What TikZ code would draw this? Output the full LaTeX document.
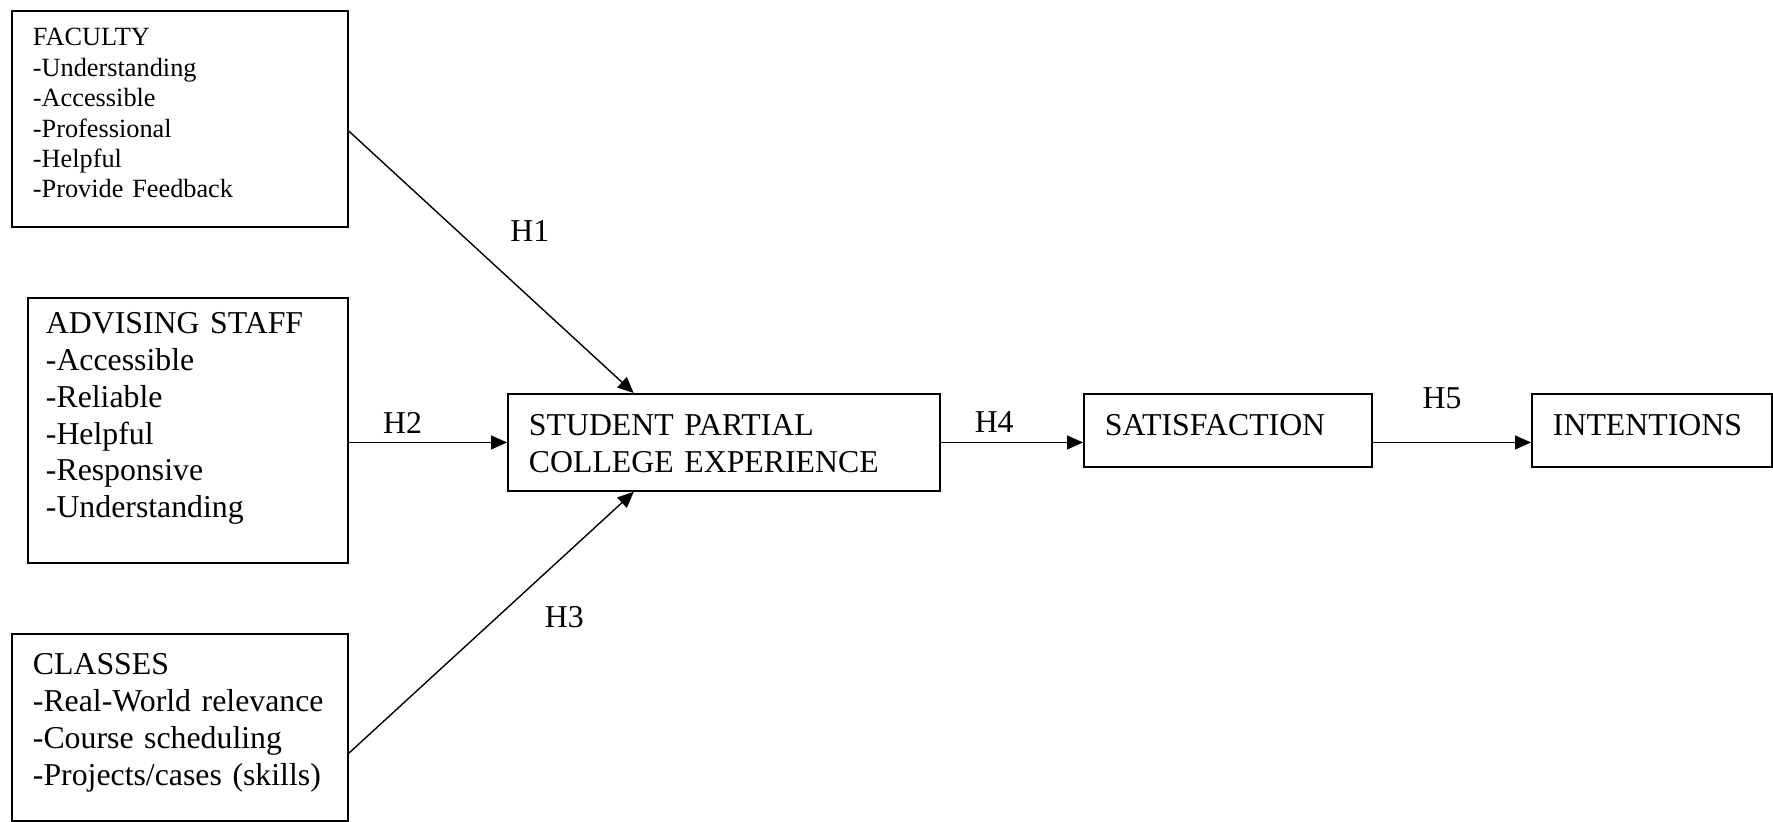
\documentclass[tikz,border=0pt]{standalone}
\usepackage{fontspec}
\setmainfont{Liberation Serif}
\usetikzlibrary{arrows.meta,calc,positioning}
\newcommand{\boxfont}{\fontsize{31.8pt}{36.7pt}\selectfont}
\newcommand{\smallboxfont}{\fontsize{26.3pt}{30.4pt}\selectfont}
\tikzset{
factor/.style={draw,line width=1.9pt,rectangle,anchor=north west,align=left,
    inner ysep=0pt,inner xsep=21pt,font=\boxfont},
hyp/.style={-{Triangle[length=16pt,width=14pt]},line width=1.4pt},
hlabel/.style={font=\boxfont,inner sep=0pt},
}

\begin{document}
\begin{tikzpicture}[x=1pt,y=-1pt]
    \useasboundingbox (0,0) rectangle (1773,822);

    \node[factor,font=\smallboxfont,text width=294pt,text height=35pt,text depth=181pt]
        (fac) at (11,10)
        {FACULTY\\-Understanding\\-Accessible\\-Professional\\-Helpful\\-Provide Feedback};
    \node[factor,inner xsep=18pt,text width=284pt,text height=36pt,text depth=229pt]
        (adv) at (27,297)
        {ADVISING STAFF\\-Accessible\\-Reliable\\-Helpful\\-Responsive\\-Understanding};
    \node[factor,text width=294pt,text height=41pt,text depth=146pt]
        (cls) at (11,633)
        {CLASSES\\-Real-World relevance\\-Course scheduling\\-Projects/cases (skills)};
    \node[factor,text width=390pt,text height=42pt,text depth=55pt]
        (stu) at (507,393) {STUDENT PARTIAL\\COLLEGE EXPERIENCE};
    \node[factor,text width=246pt,text height=42pt,text depth=31pt]
        (sat) at (1083,393) {SATISFACTION};
    \node[factor,text width=198pt,text height=42pt,text depth=31pt]
        (int) at (1531,393) {INTENTIONS};

    \path[hyp]
        ($(fac.north east)!0.556!(fac.south east)$) edge node[hlabel,pos=0.382,right=52pt] {H1}
            ($(stu.north west)!0.292!(stu.north east)$)
        (adv.east |- stu.west) edge node[hlabel,pos=0.34,above=8pt] {H2} (stu.west)
        ($(cls.north east)!0.636!(cls.south east)$) edge node[hlabel,pos=0.521,right=47pt] {H3}
            ($(stu.south west)!0.292!(stu.south east)$)
        (stu.east) edge node[hlabel,pos=0.375,above=9pt] {H4} (sat.west |- stu.east)
        (sat.east |- stu.east) edge node[hlabel,pos=0.4375,above=33pt] {H5} (int.west |- stu.east)
    ;
\end{tikzpicture}
\end{document}
